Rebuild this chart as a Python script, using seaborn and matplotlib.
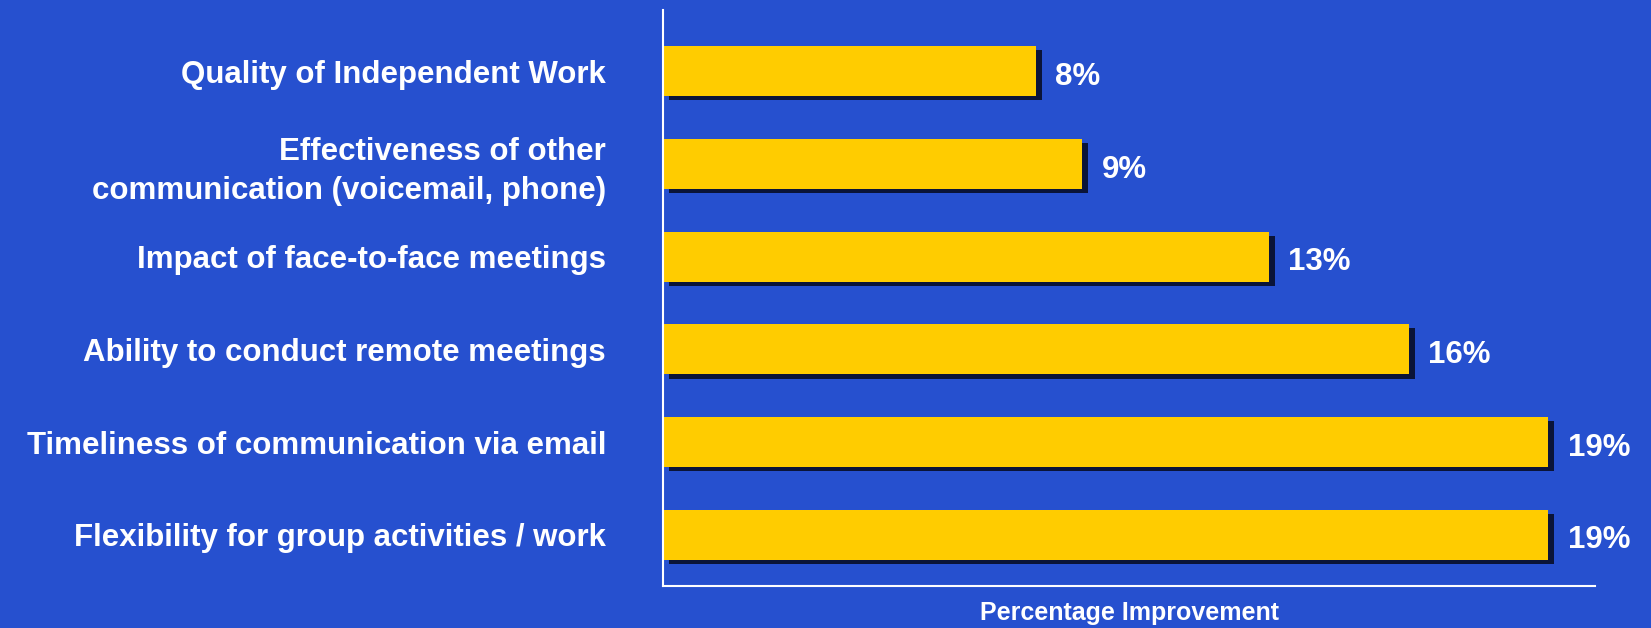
import matplotlib
matplotlib.use('Agg')
import matplotlib.pyplot as plt
import matplotlib.patheffects as pe
import seaborn as sns

# data
categories = [
    'Quality of Independent Work',
    'Effectiveness of other\ncommunication (voicemail, phone)',
    'Impact of face-to-face meetings',
    'Ability to conduct remote meetings',
    'Timeliness of communication via email',
    'Flexibility for group activities / work',
]
values = [8, 9, 13, 16, 19, 19]
value_labels = ['8%', '9%', '13%', '16%', '19%', '19%']

bg = '#2650CF'
bar_color = '#FFCC00'
shadow_color = '#0A1438'

sns.set_style('white')
plt.rcParams['font.family'] = ['Liberation Sans', 'DejaVu Sans']
plt.rcParams['font.weight'] = 'bold'

fig = plt.figure(figsize=(16.51, 6.28), dpi=100, facecolor=bg)
ax = fig.add_axes([0.4016, 0.067, 0.5645, 0.917])
ax.set_facecolor(bg)

sns.barplot(x=values, y=categories, orient='h', color=bar_color,
            saturation=1, width=0.54, linewidth=0, ax=ax)

# drop shadow, down and to the right of each bar
for p in ax.patches:
    p.set_edgecolor('none')
    p.set_path_effects([
        pe.SimplePatchShadow(offset=(4.3, -2.9), shadow_rgbFace=shadow_color, alpha=1),
        pe.Normal(),
    ])

ax.set_xlim(0, 20)
ax.set_ylim(5.55, -0.66)

for i, (v, lab) in enumerate(zip(values, value_labels)):
    ax.text(v + 0.42, i + 0.06, lab, color='white', fontsize=22.5,
            fontweight='bold', va='center', ha='left')

ax.set_xticks([])
ax.tick_params(axis='y', length=0, pad=41, labelsize=22.5, labelcolor='white')
for t in ax.get_yticklabels():
    t.set_fontweight('bold')
    t.set_linespacing(1.36)

ax.set_xlabel('Percentage Improvement', color='white', fontsize=18,
              fontweight='bold', labelpad=11)
ax.set_ylabel('')

for s in ['top', 'right']:
    ax.spines[s].set_visible(False)
for s in ['left', 'bottom']:
    ax.spines[s].set_color('white')
    ax.spines[s].set_linewidth(1.5)

fig.savefig('out.png', dpi=100, facecolor=bg)
